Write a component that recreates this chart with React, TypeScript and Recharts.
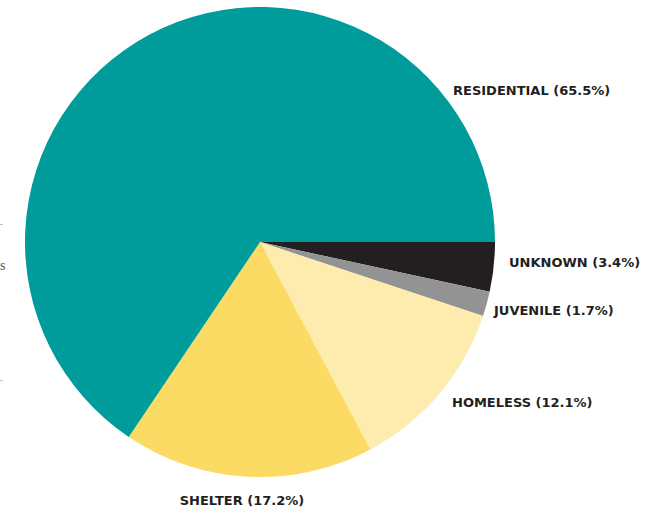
import { PieChart, Pie, Cell } from "recharts";

const categories = ["UNKNOWN", "JUVENILE", "HOMELESS", "SHELTER", "RESIDENTIAL"];
const shares = [3.4, 1.7, 12.1, 17.2, 65.5];
const colors = ["#231f20", "#939393", "#feebae", "#fcdb64", "#009b9b"];

// label placement relative to pie centre (layout only)
const labelPos = [
  { dx: 249, dy: 20, anchor: "start" },
  { dx: 234, dy: 68, anchor: "start" },
  { dx: 192, dy: 160, anchor: "start" },
  { dx: -18, dy: 258, anchor: "middle" },
  { dx: 193, dy: -152, anchor: "start" },
];

const data = categories.map((name, i) => ({ name, value: shares[i] }));

const renderLabel = (props: any) => {
  const { cx, cy, index } = props;
  const p = labelPos[index];
  return (
    <text
      x={cx + p.dx}
      y={cy + p.dy}
      textAnchor={p.anchor}
      dominantBaseline="central"
      fill="#231f20"
      fontFamily="'DejaVu Sans', sans-serif"
      fontWeight={700}
      fontSize={13}
    >
      {`${data[index].name} (${data[index].value}%)`}
    </text>
  );
};

export default function App() {
  return (
    <div style={{ position: "absolute", left: 0, top: 0, width: 659, height: 512, background: "#fff" }}>
      <span style={{ position: "absolute", left: 0, top: 258, fontFamily: "'Liberation Serif', serif", fontSize: 14, color: "#555" }}>s</span>
      <span style={{ position: "absolute", left: 0, top: 220, fontFamily: "'Liberation Serif', serif", fontSize: 8, color: "#777" }}>-</span>
      <span style={{ position: "absolute", left: 0, top: 376, fontFamily: "'Liberation Serif', serif", fontSize: 8, color: "#777" }}>-</span>
      <PieChart width={659} height={512} margin={{ top: 0, right: 0, bottom: 0, left: 0 }}>
        <Pie
          data={data}
          dataKey="value"
          cx={260}
          cy={242}
          outerRadius={235}
          startAngle={0}
          endAngle={-360}
          stroke="none"
          labelLine={false}
          label={renderLabel}
          isAnimationActive={false}
        >
          {data.map((d, i) => (
            <Cell key={d.name} fill={colors[i]} />
          ))}
        </Pie>
      </PieChart>
    </div>
  );
}
